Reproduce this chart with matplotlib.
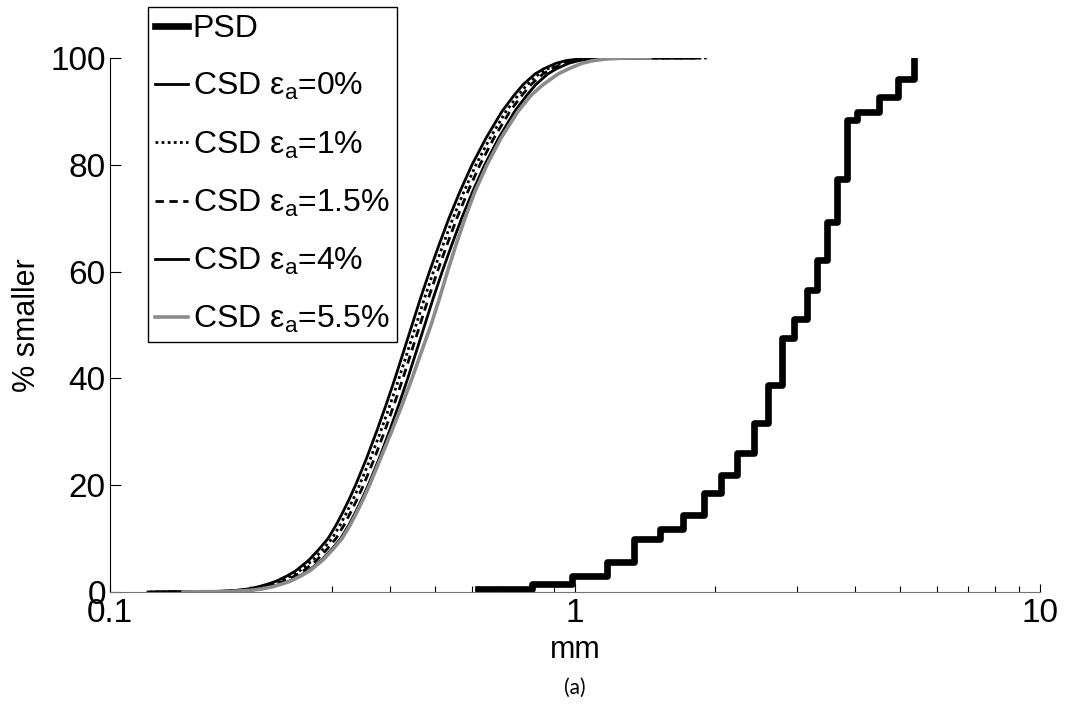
import matplotlib
matplotlib.use("Agg")
import matplotlib.pyplot as plt
from matplotlib.ticker import FixedLocator, LogLocator, NullFormatter

plt.rcParams['font.family'] = ['Liberation Sans', 'DejaVu Sans']
plt.rcParams['mathtext.fontset'] = 'custom'
plt.rcParams['mathtext.rm'] = 'Liberation Sans'
plt.rcParams['mathtext.it'] = 'Liberation Sans:italic'

# PSD (stair plot): grain size (mm) and % smaller
psd_mm = [0.618, 0.808, 0.985, 1.172, 1.339, 1.523, 1.707, 1.895, 2.06, 2.23,
          2.43, 2.60, 2.79, 2.96, 3.15, 3.31, 3.48, 3.66, 3.85, 4.04, 4.50,
          4.95, 5.36]
psd_pct = [0.5, 1.5, 3.0, 5.6, 9.9, 11.8, 14.4, 18.5, 21.9, 26.0, 31.6, 38.8,
           47.5, 51.2, 56.6, 62.2, 69.3, 77.3, 88.4, 89.9, 92.7, 96.1, 100.0]

# CSD curves: % smaller levels and the size (mm) read at each level
csd_pct = [0, 0.1, 0.3, 0.6, 1, 1.5, 2, 3, 4, 6, 8, 10, 12.5, 15, 17.5, 20,
           25, 30, 35, 40, 45, 50, 55, 60, 65, 70, 75, 80, 85, 90, 93, 95, 97,
           98, 99, 99.5, 99.8, 100, 100]
csd_0 = [0.1207, 0.1690, 0.1866, 0.1990, 0.2091, 0.2187, 0.2275, 0.2402,
         0.2512, 0.2679, 0.2815, 0.2943, 0.3062, 0.3170, 0.3274, 0.3373,
         0.3561, 0.3742, 0.3922, 0.4101, 0.4278, 0.4462, 0.4653, 0.4865,
         0.5100, 0.5358, 0.5658, 0.6005, 0.6436, 0.6966, 0.7393, 0.7730,
         0.8203, 0.8577, 0.9102, 0.9564, 1.0150, 1.1318, 1.857]
csd_1 = [0.1219, 0.1724, 0.1903, 0.2030, 0.2133, 0.2231, 0.2321, 0.2450,
         0.2562, 0.2733, 0.2871, 0.3002, 0.3123, 0.3233, 0.3339, 0.3440,
         0.3632, 0.3817, 0.4000, 0.4183, 0.4364, 0.4551, 0.4746, 0.4962,
         0.5202, 0.5465, 0.5771, 0.6125, 0.6565, 0.7105, 0.7541, 0.7885,
         0.8367, 0.8749, 0.9284, 0.9755, 1.0353, 1.1544, 1.93]
csd_15 = [0.1243, 0.1758, 0.1941, 0.2070, 0.2175, 0.2274, 0.2366, 0.2498,
          0.2612, 0.2786, 0.2928, 0.3061, 0.3184, 0.3297, 0.3405, 0.3508,
          0.3703, 0.3892, 0.4079, 0.4265, 0.4449, 0.4640, 0.4839, 0.5060,
          0.5304, 0.5572, 0.5884, 0.6245, 0.6693, 0.7245, 0.7689, 0.8039,
          0.8531, 0.8920, 0.9466, 0.9947, 1.0556, 1.1771, 1.86]
csd_4 = [0.1300, 0.1800, 0.1987, 0.2119, 0.2227, 0.2329, 0.2423, 0.2558,
         0.2675, 0.2853, 0.2998, 0.3134, 0.3261, 0.3376, 0.3487, 0.3592,
         0.3792, 0.3985, 0.4177, 0.4368, 0.4556, 0.4752, 0.4955, 0.5181,
         0.5432, 0.5706, 0.6026, 0.6395, 0.6854, 0.7419, 0.7874, 0.8232,
         0.8736, 0.9135, 0.9694, 1.0186, 1.0810, 1.2054, 1.80]
csd_55 = [0.1435, 0.1811, 0.2000, 0.2133, 0.2242, 0.2344, 0.2438, 0.2575,
          0.2692, 0.2871, 0.3017, 0.3154, 0.3282, 0.3398, 0.3509, 0.3615,
          0.3817, 0.4030, 0.4246, 0.4462, 0.4676, 0.4901, 0.5112, 0.5318,
          0.5547, 0.5800, 0.6094, 0.6467, 0.6932, 0.7541, 0.8042, 0.8534,
          0.9193, 0.9707, 1.0353, 1.0932, 1.1659, 1.2809, 1.4497]

fig = plt.figure(figsize=(10.66, 7.06), dpi=100)
ax = fig.add_axes([0.1032, 0.1615, 0.8724, 0.7564])

ax.step(psd_mm, psd_pct, where='post', color='black', lw=4.8, label='PSD')
ax.plot(csd_0, csd_pct, color='black', lw=2.0, ls='-', label='CSD ε$_\\mathrm{a}$=0%')
ax.plot(csd_1, csd_pct, color='black', lw=2.0, ls=(0, (1, 1.2)), label='CSD ε$_\\mathrm{a}$=1%')
ax.plot(csd_15, csd_pct, color='black', lw=2.0, ls=(0, (3, 2)), label='CSD ε$_\\mathrm{a}$=1.5%')
ax.plot(csd_4, csd_pct, color='black', lw=2.0, ls='-', label='CSD ε$_\\mathrm{a}$=4%')
ax.plot(csd_55, csd_pct, color='#8c8c8c', lw=2.6, ls='-', label='CSD ε$_\\mathrm{a}$=5.5%')

ax.set_xscale('log')
ax.set_xlim(0.1, 10)
ax.set_ylim(0, 100)
ax.xaxis.set_major_locator(FixedLocator([0.1, 1, 10]))
ax.set_xticklabels(['0.1', '1', '10'])
ax.xaxis.set_minor_locator(LogLocator(base=10, subs=range(2, 10)))
ax.xaxis.set_minor_formatter(NullFormatter())
ax.set_yticks([0, 20, 40, 60, 80, 100])

for s in ['top', 'right']:
    ax.spines[s].set_visible(False)
ax.spines['left'].set_color('black')
ax.spines['bottom'].set_color('0.45')
ax.tick_params(axis='both', which='both', direction='in', labelsize=24, width=0.8)
ax.tick_params(axis='x', which='major', length=6, pad=4)
ax.tick_params(axis='x', which='minor', length=4)
ax.tick_params(axis='y', which='major', length=8, pad=3)
ax.tick_params(axis='y', which='minor', left=False)

ax.set_xlabel('mm', fontsize=22, labelpad=5)
ax.set_ylabel('% smaller', fontsize=22, labelpad=6)

leg = ax.legend(loc='upper left', bbox_to_anchor=(148 / 1066, 1 - 7 / 706),
                bbox_transform=fig.transFigure, borderaxespad=0,
                fontsize=23, frameon=True, fancybox=False, framealpha=1,
                handlelength=1.03, handletextpad=0.15, labelspacing=0.85,
                borderpad=0.22)
leg.get_frame().set_edgecolor('black')
leg.get_frame().set_linewidth(1.0)

fig.text(575 / 1066, 1 - 688 / 706, '(a)', fontsize=15, family=['Lato', 'DejaVu Sans'],
         ha='center', va='center')

fig.savefig('out.png', dpi=100)
